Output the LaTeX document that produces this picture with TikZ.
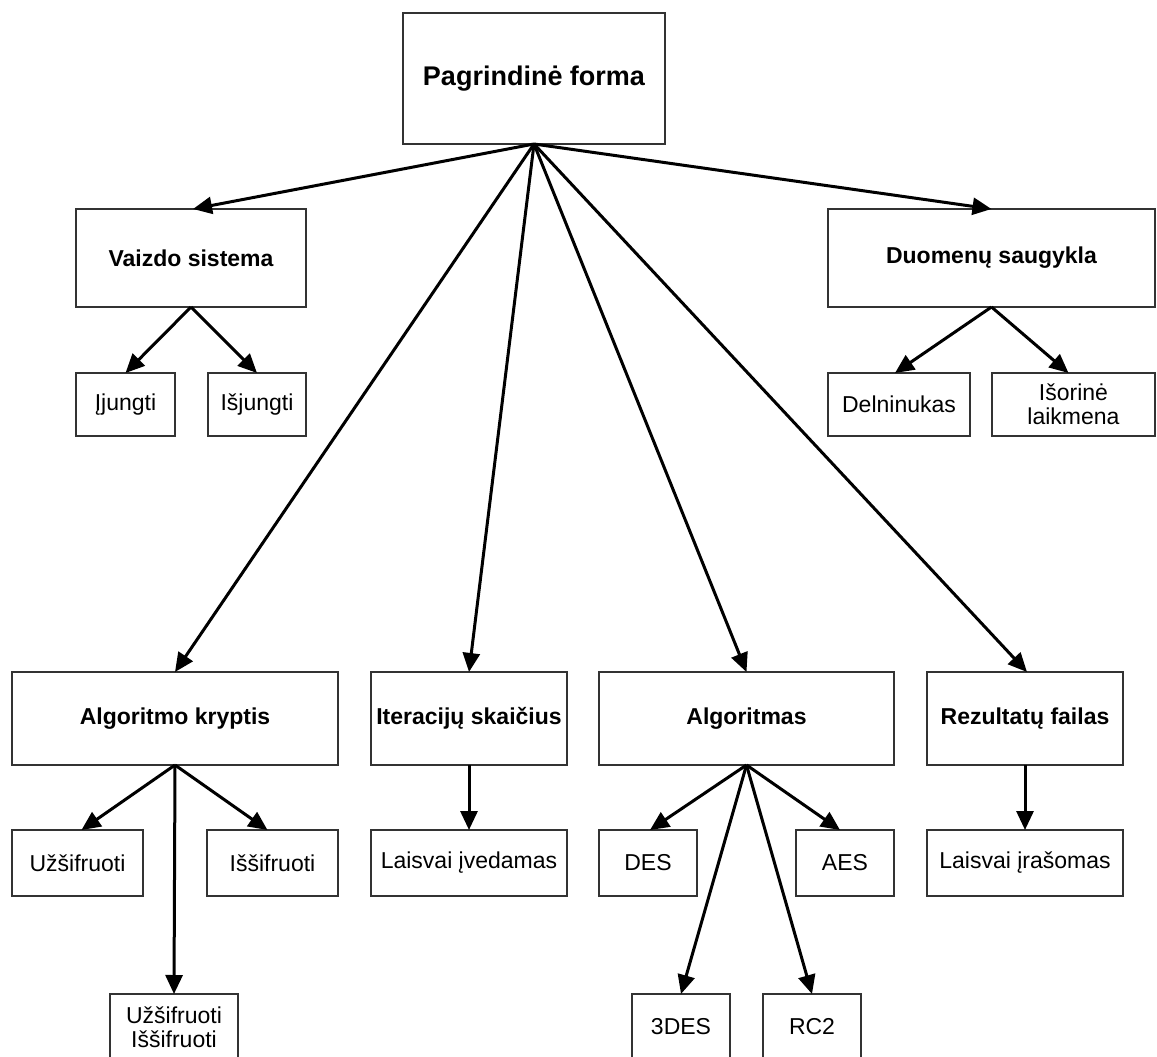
\documentclass[tikz,border=0pt]{standalone}
\usepackage{fontspec}
\setmainfont{Liberation Sans}
\usetikzlibrary{arrows.meta}
\tikzset{
  box/.style={draw=black!80, line width=1.2pt, fill=white, inner sep=0pt, outer sep=0pt, align=center, font=\fontsize{23}{24}\selectfont},
  hbox/.style={box, font=\fontsize{23}{24}\selectfont\bfseries},
  conn/.style={line width=3pt, -{Triangle[length=19pt,width=17pt]}},
}
\begin{document}
\begin{tikzpicture}[x=1pt,y=-1pt]
\clip (0,0) rectangle (1157,1057);
\fill[white] (0,0) rectangle (1157,1057);
% top
\node[box, font=\fontsize{27}{27}\selectfont\bfseries, minimum width=262pt, minimum height=131pt] (top) at (534,78.5) {Pagrindinė forma};
% level 1
\node[hbox, minimum width=230pt, minimum height=98pt] (vaizdo) at (191,258) {Vaizdo sistema};
\node[hbox, minimum width=327pt, minimum height=98pt] (duom) at (991.5,258) {Duomenų saugykla};
\node[hbox, minimum width=326pt, minimum height=93pt] (kryptis) at (175,718.5) {Algoritmo kryptis};
\node[hbox, minimum width=196pt, minimum height=93pt] (iter) at (469,718.5) {Iteracijų skaičius};
\node[hbox, minimum width=295pt, minimum height=93pt] (algor) at (746.5,718.5) {Algoritmas};
\node[hbox, minimum width=196pt, minimum height=93pt] (rez) at (1025,718.5) {Rezultatų failas};
% level 2
\node[box, minimum width=99pt, minimum height=63pt] (ijungti) at (125.5,404.5) {Įjungti};
\node[box, minimum width=98pt, minimum height=63pt] (isjungti) at (257,404.5) {Išjungti};
\node[box, minimum width=142pt, minimum height=63pt] (delnin) at (899,404.5) {Delninukas};
\node[box, minimum width=163pt, minimum height=63pt] (isorine) at (1073.5,404.5) {Išorinė\\laikmena};
\node[box, minimum width=131pt, minimum height=66pt] (uzsif) at (77.5,863) {Užšifruoti};
\node[box, minimum width=131pt, minimum height=66pt] (issif) at (272.5,863) {Iššifruoti};
\node[box, minimum width=128pt, minimum height=66pt] (abu) at (174,1027) {Užšifruoti\\Iššifruoti};
\node[box, minimum width=196pt, minimum height=66pt] (lived) at (469,863) {Laisvai įvedamas};
\node[box, minimum width=98pt, minimum height=66pt] (des) at (648,863) {DES};
\node[box, minimum width=98pt, minimum height=66pt] (aes) at (845,863) {AES};
\node[box, minimum width=98pt, minimum height=66pt] (tdes) at (681,1027) {3DES};
\node[box, minimum width=98pt, minimum height=66pt] (rc) at (812,1027) {RC2};
\node[box, minimum width=196pt, minimum height=66pt] (lira) at (1025,863) {Laisvai įrašomas};
% connectors from top
\draw[conn] (top.south) -- ([xshift=2pt]vaizdo.north);
\draw[conn] (top.south) -- (duom.north);
\draw[conn] (top.south) -- (kryptis.north);
\draw[conn] (top.south) -- (iter.north);
\draw[conn] (top.south) -- (algor.north);
\draw[conn] (top.south) -- ([xshift=2pt]rez.north);
% vaizdo
\draw[conn] (vaizdo.south) -- (ijungti.north);
\draw[conn] (vaizdo.south) -- (isjungti.north);
% duom
\draw[conn] (duom.south) -- ([xshift=-4pt]delnin.north);
\draw[conn] (duom.south) -- ([xshift=-5pt]isorine.north);
% kryptis
\draw[conn] (kryptis.south) -- ([xshift=4pt]uzsif.north);
\draw[conn] (kryptis.south) -- ([xshift=-5pt]issif.north);
\draw[conn] (kryptis.south) -- (abu.north);
% iter
\draw[conn] (iter.south) -- (lived.north);
% algor
\draw[conn] (algor.south) -- ([xshift=2pt]des.north);
\draw[conn] (algor.south) -- ([xshift=-5pt]aes.north);
\draw[conn] (algor.south) -- (tdes.north);
\draw[conn] (algor.south) -- (rc.north);
% rez
\draw[conn] (rez.south) -- (lira.north);
\end{tikzpicture}
\end{document}
